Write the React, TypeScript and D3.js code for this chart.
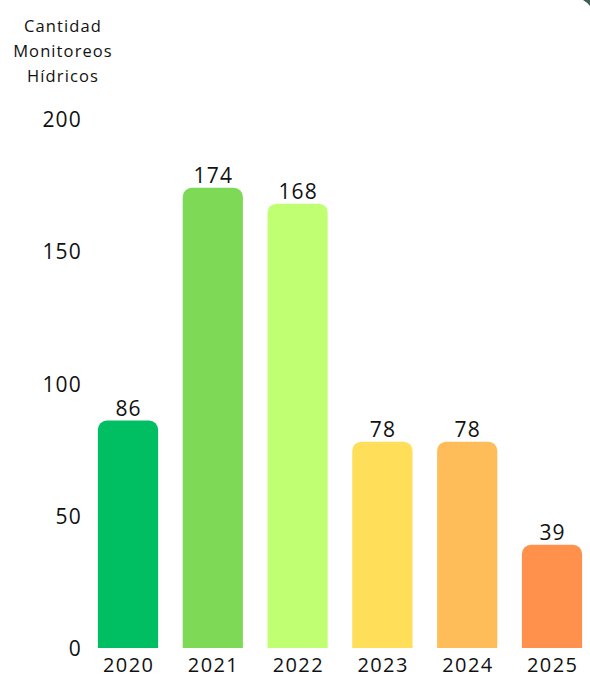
import React from "react";
import * as d3 from "d3";

const years = ["2020", "2021", "2022", "2023", "2024", "2025"];
const values = [86, 174, 168, 78, 78, 39];
const colors = ["#00BF63", "#7ED957", "#C1FF72", "#FFDE59", "#FFBD59", "#FF914D"];
const yTicks = [0, 50, 100, 150, 200];
const titleLines = ["Cantidad", "Monitoreos", "Hídricos"];

const W = 590;
const H = 678;
const FONT = "'Open Sans', 'Noto Sans', sans-serif";

function topRoundedRect(x: number, y: number, w: number, h: number, r: number) {
  const rr = Math.min(r, h, w / 2);
  const p = d3.path();
  p.moveTo(x, y + h);
  p.lineTo(x, y + rr);
  p.arcTo(x, y, x + rr, y, rr);
  p.lineTo(x + w - rr, y);
  p.arcTo(x + w, y, x + w, y + rr, rr);
  p.lineTo(x + w, y + h);
  p.closePath();
  return p.toString();
}

export default function App() {
  const y = d3.scaleLinear().domain([0, 200]).range([648, 119]);
  const x = d3
    .scaleBand<string>()
    .domain(years)
    .range([85.6, 594.4])
    .paddingInner(0.29)
    .paddingOuter(0.145);

  return (
    <div style={{ position: "absolute", left: 0, top: 0, width: W, height: H, overflow: "hidden" }}>
      <svg width={W} height={H} style={{ display: "block", background: "#fff" }} fontFamily={FONT}>
        <path d="M583,0 Q588,3 590,6 L590,0 Z" fill="#3f5f52" />
        <g>
          {titleLines.map((t, i) => (
            <text
              key={t}
              x={63}
              y={25 + i * 25}
              textAnchor="middle"
              dominantBaseline="central"
              fontSize={16.5}
              letterSpacing={1.1}
              fill="#111"
            >
              {t}
            </text>
          ))}
        </g>
        <g>
          {yTicks.map((t) => (
            <text
              key={t}
              x={82}
              y={y(t)}
              textAnchor="end"
              dominantBaseline="central"
              fontSize={21}
              letterSpacing={1.2}
              fill="#111"
            >
              {t}
            </text>
          ))}
        </g>
        <g>
          {years.map((yr, i) => {
            const bx = x(yr)!;
            const bw = x.bandwidth();
            const top = y(values[i]);
            return (
              <g key={yr}>
                <path d={topRoundedRect(bx, top, bw, y(0) - top, 9)} fill={colors[i]} />
                <text
                  x={bx + bw / 2 + 0.6}
                  y={top - 13}
                  textAnchor="middle"
                  dominantBaseline="central"
                  fontSize={21}
                  letterSpacing={1.2}
                  fill="#111"
                >
                  {values[i]}
                </text>
                <text
                  x={bx + bw / 2 + 0.7}
                  y={664}
                  textAnchor="middle"
                  dominantBaseline="central"
                  fontSize={20}
                  letterSpacing={1.4}
                  fill="#111"
                >
                  {yr}
                </text>
              </g>
            );
          })}
        </g>
      </svg>
    </div>
  );
}
